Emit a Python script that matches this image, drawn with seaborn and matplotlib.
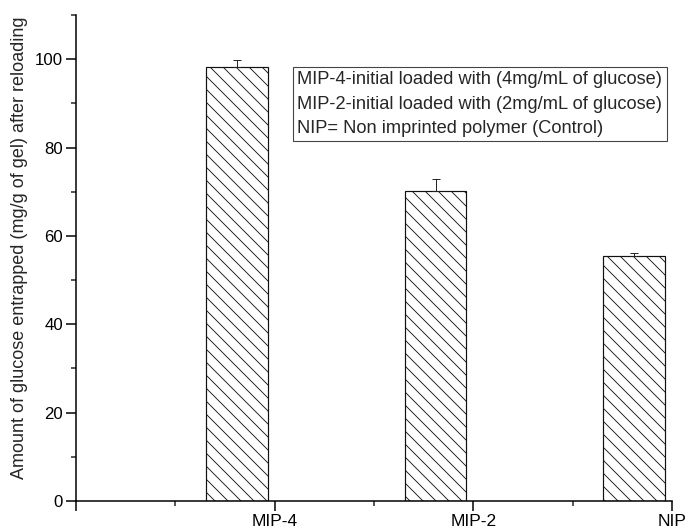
import matplotlib
matplotlib.use("Agg")
import matplotlib.pyplot as plt
import seaborn as sns
import pandas as pd
import numpy as np

categories = ["MIP-4", "MIP-2", "NIP"]
amounts = [98.2, 70.2, 55.5]
errors = [1.7, 2.6, 0.6]
y_ticks = [0, 20, 40, 60, 80, 100]
y_minor = [10, 30, 50, 70, 90, 110]
legend_lines = [
    "MIP-4-initial loaded with (4mg/mL of glucose)",
    "MIP-2-initial loaded with (2mg/mL of glucose)",
    "NIP= Non imprinted polymer (Control)",
]
ylabel = "Amount of glucose entrapped (mg/g of gel) after reloading"

sns.set_style("ticks")
plt.rcParams["font.family"] = ["Liberation Sans", "DejaVu Sans"]
plt.rcParams["hatch.linewidth"] = 0.8
plt.rcParams["hatch.color"] = "#222222"

DPI = 78
W, H = 689.0, 531.0
fig = plt.figure(figsize=(W / DPI, H / DPI), dpi=DPI)
ax = fig.add_axes([76 / W, (H - 501) / H, (672 - 76) / W, (501 - 15) / H])

df = pd.DataFrame({"cat": categories, "amount": amounts})
sns.barplot(data=df, x="cat", y="amount", ax=ax, color="white",
            edgecolor="black", linewidth=1.1, width=0.31, errorbar=None)
for p in ax.patches:
    p.set_hatch("\\\\")
    p.set_facecolor("white")
    p.set_edgecolor("#111111")

xs = np.arange(len(categories))
ax.errorbar(xs, amounts, yerr=[np.zeros(len(errors)), errors], fmt="none",
            ecolor="#222222", elinewidth=0.9, capsize=3.8, capthick=0.9)

off = 0.19
ax.set_xlim(-0.81, 2.19)
ax.set_xticks([-0.81] + list(xs + off))
ax.set_xticklabels([""] + categories)
ax.set_xticks(xs - 0.31, minor=True)
ax.set_ylim(0, 110)
ax.set_yticks(y_ticks)
ax.set_yticks(y_minor, minor=True)
ax.set_xlabel("")
ax.set_ylabel(ylabel, fontsize=16.6)
ax.yaxis.set_label_coords(-0.0805, 0.5216)

for s in ["top", "right"]:
    ax.spines[s].set_visible(False)
for s in ["left", "bottom"]:
    ax.spines[s].set_linewidth(1.4)
    ax.spines[s].set_color("black")
ax.tick_params(axis="both", which="major", length=9, width=1.4,
               colors="black", direction="out")
ax.tick_params(axis="both", which="minor", length=5, width=1.4, direction="out")
ax.tick_params(axis="x", which="major", pad=3, labelsize=16)
ax.tick_params(axis="y", which="major", pad=3, labelsize=15.5)

handles = [plt.Line2D([], [], linestyle="none", marker=None) for _ in legend_lines]
leg = ax.legend(handles, legend_lines, loc="upper left",
                bbox_to_anchor=(0.3636, 0.8936), bbox_transform=ax.transAxes,
                fontsize=16.8, handlelength=0, handletextpad=0, labelspacing=0.4,
                borderpad=0.25, borderaxespad=0, frameon=True, fancybox=False,
                edgecolor="#444444", framealpha=1)
leg.get_frame().set_linewidth(1.0)

fig.savefig("out.png", dpi=DPI)
